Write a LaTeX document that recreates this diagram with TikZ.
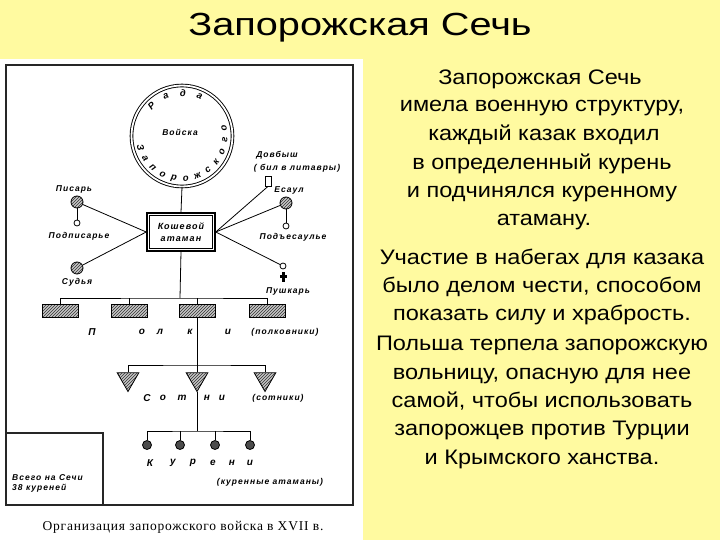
\documentclass[tikz,border=0pt]{standalone}
\usepackage{fontspec}
\setmainfont{Liberation Sans}
\newfontfamily\rtfont[FakeStretch=1.12]{Liberation Sans}
\newfontfamily\ttlfont[FakeStretch=1.24]{Liberation Sans}
\newfontfamily\dfont[LetterSpace=12]{Liberation Sans}
\newfontfamily\cfont{Liberation Sans}
\newfontfamily\capfont[LetterSpace=6]{Liberation Serif}
\usetikzlibrary{patterns,shapes.geometric}
\definecolor{bgyellow}{RGB}{255,250,160}
\begin{document}
\begin{tikzpicture}[x=1pt,y=-1pt,
  lbl/.style={font=\dfont\bfseries\itshape\fontsize{8.5}{10}\selectfont, inner sep=0pt},
  clbl/.style={font=\cfont\bfseries\itshape\fontsize{9.5}{10}\selectfont, inner sep=0pt},
  big/.style={font=\cfont\bfseries\itshape\fontsize{10}{11}\selectfont, inner sep=0pt},
  rt/.style={font=\rtfont\fontsize{21}{25}\selectfont, anchor=mid, inner sep=0pt},
  hatch/.style={preaction={fill=gray!45}, pattern=north east lines, pattern color=black!80},
  frame/.style={draw=black!85, line width=1.8pt},
  conn/.style={draw=black, line width=0.8pt},
  bigdot/.style={circle, draw, line width=0.8pt, minimum size=12pt, inner sep=0pt, hatch},
  smalldot/.style={circle, draw, line width=0.8pt, fill=white, minimum size=6pt, inner sep=0pt},
  polk/.style={rectangle, draw, line width=0.8pt, minimum width=36pt, minimum height=13pt, inner sep=0pt, hatch},
  tri/.style={regular polygon, regular polygon sides=3, shape border rotate=180, minimum size=25pt, inner sep=0pt, draw, line width=0.8pt, hatch},
  kdot/.style={circle, draw, line width=0.8pt, minimum size=9pt, inner sep=0pt, fill=black!70}]
\fill[bgyellow] (0,0) rectangle (720,540);
\fill[white] (0,59) rectangle (363,540);
\useasboundingbox (0,0) rectangle (720,540);
% title
\node[font=\ttlfont\fontsize{32}{36}\selectfont, anchor=mid, inner sep=0pt] (title) at (360,33) {Запорожская Сечь};
% right text
\node[rt] (t1) at (540,82) {Запорожская Сечь};
\node[rt] (t2) at (542,109) {имела военную структуру,};
\node[rt] (t3) at (544,138) {каждый казак входил};
\node[rt] (t4) at (542,167) {в определенный курень};
\node[rt] (t5) at (542,195) {и подчинялся куренному};
\node[rt] (t6) at (544,223) {атаману.};
\node[rt] (t7) at (542,262) {Участие в набегах для казака};
\node[rt] (t8) at (542,290) {было делом чести, способом};
\node[rt] (t9) at (542,318) {показать силу и храбрость.};
\node[rt] (t10) at (542,348) {Польша терпела запорожскую};
\node[rt] (t11) at (542,377) {вольницу, опасную для нее};
\node[rt] (t12) at (542,405) {самой, чтобы использовать};
\node[rt] (t13) at (542,433) {запорожцев против Турции};
\node[rt] (t14) at (542,462) {и Крымского ханства.};
% frame
\draw[frame] (6,65) rectangle (353,505);
\draw[frame, line width=1.4pt] (6,433) -- (103,433) -- (103,505);
\node[lbl, anchor=west, align=left, font=\dfont\bfseries\itshape\fontsize{8.5}{9.5}\selectfont] (vsego) at (12,483.5) {Всего на Сечи\\38 куреней};
% rada circle
\node[circle, draw, double, double distance=1.8pt, line width=0.9pt, minimum size=101pt, inner sep=0pt] (rada) at (182,136) {};
\node[lbl] (voiska) at (180,132) {Войска};
\foreach \ch [count=\i from 0] in {Р,а,д,а}{
  \pgfmathsetmacro\a{135-23*\i}
  \node[clbl, rotate=\a-90] (r\i) at ({182+43*cos(\a)},{136-43*sin(\a)}) {\ch};}
\foreach \ch [count=\i from 0] in {З,а,п,о,р,о,ж,с,к,о,г,о}{
  \pgfmathsetmacro\a{195+16*\i}
  \node[clbl, rotate=\a+90] (z\i) at ({182+43*cos(\a)},{136-43*sin(\a)}) {\ch};}
% koshevoi
\node[draw, line width=1.5pt, minimum width=68pt, minimum height=38pt, inner sep=0pt, align=center,
  font=\dfont\bfseries\itshape\fontsize{9}{12}\selectfont] (kosh) at (181,232) {Кошевой\\атаман};
\draw[line width=0.6pt] ([shift={(3,3)}]kosh.north west) rectangle ([shift={(-3,-3)}]kosh.south east);
\draw[conn] (rada.south) -- (kosh.north);
% left side
\node[bigdot] (pisar) at (77,202) {};
\node[lbl] (pisarL) at (74,189) {Писарь};
\node[smalldot] (podp) at (77,223) {};
\node[lbl] (podpL) at (79,236) {Подписарье};
\node[bigdot] (sud) at (77,268) {};
\node[lbl] (sudL) at (77,282) {Судья};
\draw[conn] (pisar) -- (podp);
\draw[conn] (pisar) -- (kosh.west);
\draw[conn] (sud) -- (kosh.west);
% right side
\node[draw, line width=0.8pt, minimum width=6pt, minimum height=10pt, inner sep=0pt, fill=white] (dovb) at (268,181) {};
\node[lbl] (dovbL) at (277,155) {Довбыш};
\node[lbl] (dovbL2) at (297,168) {( бил в литавры)};
\node[bigdot] (esaul) at (286,203) {};
\node[lbl] (esaulL) at (289,190) {Есаул};
\node[smalldot] (podes) at (286,226) {};
\node[lbl] (podesL) at (293,237) {Подъесаулье};
\node[smalldot] (push) at (283,266) {};
\node[fill=black, minimum width=3pt, minimum height=10pt, inner sep=0pt] (pushg) at (283,277) {};
\node[fill=black, minimum width=7pt, minimum height=3pt, inner sep=0pt] (pushg2) at (283,276) {};
\node[lbl] (pushL) at (288,291) {Пушкарь};
\draw[conn] (kosh.east) -- (dovb.south);
\draw[conn] (kosh.east) -- (esaul);
\draw[conn] (kosh.east) -- (push);
\draw[conn] (esaul) -- (podes);
% polki
\foreach \x [count=\i] in {60,129,197,267} \node[polk] (p\i) at (\x,310.5) {};
\coordinate (pj) at (180,298);
\draw[conn] (kosh.south) -- (pj);
\draw[conn] (p1.north) |- (pj) -| (p4.north);
\draw[conn] (p2.north) -- (p2.north |- pj);
\draw[conn] (p3.north) -- (p3.north |- pj);
\foreach \ch/\x [count=\i] in {П/92,о/142,л/160,к/190,и/228}
  \node[big] (pl\i) at (\x,332) {\ch};
\node[lbl] (polkL) at (285,332) {(полковники)};
% sotni
\foreach \x [count=\i] in {128,197,265} \node[tri] (s\i) at (\x,379) {};
\coordinate (sj) at (197,365);
\draw[conn] (p3.south) -- (sj);
\draw[conn] (s1.north) |- (sj) -| (s3.north);
\draw[conn] (s2.north) -- (sj);
\foreach \ch/\x [count=\i] in {С/147,о/163,т/182,н/207,и/222}
  \node[big] (sl\i) at (\x,398) {\ch};
\node[lbl] (sotL) at (278,398) {(сотники)};
% kureni
\foreach \x [count=\i] in {147,180,215,250} \node[kdot] (k\i) at (\x,445) {};
\coordinate (kj) at (197,431);
\draw[conn] (s2.south) -- (kj);
\draw[conn] (k1.north) |- (kj) -| (k4.north);
\draw[conn] (k2.north) -- (k2.north |- kj);
\draw[conn] (k3.north) -- (k3.north |- kj);
\foreach \ch/\x [count=\i] in {К/150,у/173,р/193,е/213,н/232,и/250}
  \node[big] (kl\i) at (\x,463) {\ch};
\node[lbl] (kurL) at (270,482) {(куренные атаманы)};
% caption
\node[font=\capfont\fontsize{13.5}{15}\selectfont, inner sep=0pt] (cap) at (183,527) {Организация запорожского войска в XVII в.};
\end{tikzpicture}
\end{document}
